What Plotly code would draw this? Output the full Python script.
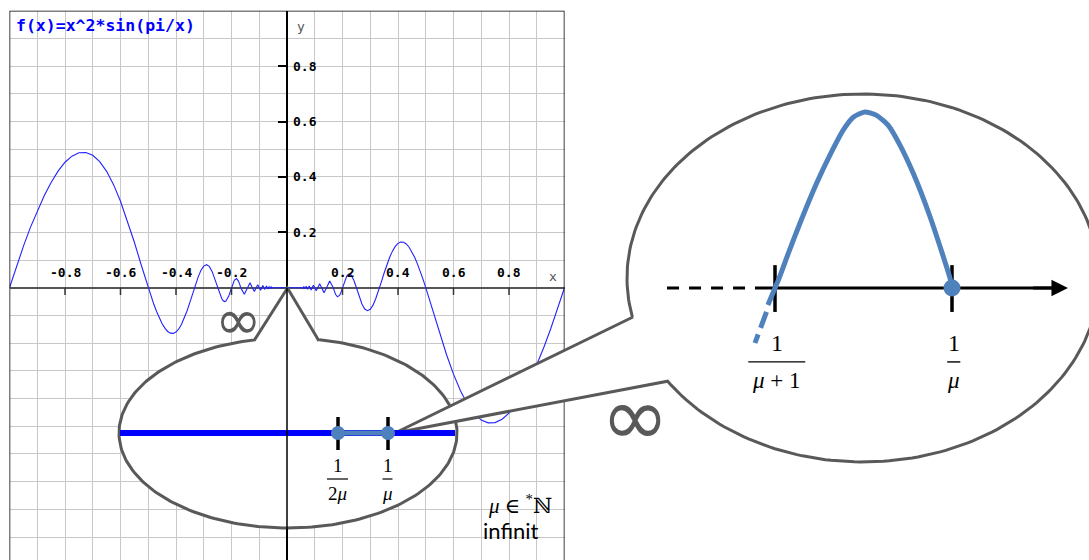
import numpy as np
import plotly.graph_objects as go

W, H = 1089, 560

# f(x) = x^2*sin(pi/x)
FX_LEFT = [-1.0, -0.975, -0.95, -0.925, -0.9, -0.875, -0.85, -0.825, -0.8, -0.775,
           -0.75, -0.725, -0.7, -0.675, -0.65, -0.625, -0.6, -0.575, -0.55, -0.525,
           -0.5, -0.49, -0.48, -0.47, -0.46, -0.45, -0.44, -0.43, -0.42, -0.41,
           -0.40, -0.39, -0.38, -0.37, -0.36, -0.35, -0.34, -0.3333, -0.325, -0.32,
           -0.31, -0.30, -0.29, -0.28, -0.27, -0.26, -0.25, -0.245, -0.24, -0.235,
           -0.23, -0.225, -0.22, -0.215, -0.21, -0.205, -0.2, -0.195, -0.19, -0.1818,
           -0.175, -0.17, -0.1667, -0.1538, -0.1429, -0.1333, -0.125, -0.1176, -0.1111, -0.1053,
           -0.1, -0.0952, -0.0909, -0.087, -0.0833, -0.08, -0.0769, -0.0741, -0.0714, -0.069,
           -0.0667, -0.0645, -0.0625, -0.0606, -0.0588, -0.0571, -0.055]
FY_LEFT = [0, 0.077, 0.149, 0.217, 0.277, 0.332, 0.380, 0.421, 0.453, 0.475,
           0.487, 0.488, 0.478, 0.455, 0.420, 0.372, 0.312, 0.242, 0.164, 0.081,
           0, -0.031, -0.060, -0.086, -0.110, -0.130, -0.146, -0.158, -0.164, -0.165,
           -0.160, -0.149, -0.132, -0.110, -0.083, -0.053, -0.021, 0, 0.025, 0.039,
           0.063, 0.078, 0.083, 0.077, 0.059, 0.031, 0, -0.015, -0.029, -0.040,
           -0.047, -0.050, -0.048, -0.041, -0.030, -0.016, 0, 0.015, 0.027, 0.033,
           0.024, 0.011, 0, -0.024, 0, 0.018, 0, -0.014, 0, 0.011,
           0, -0.009, 0, 0.008, 0, -0.006, 0, 0.006, 0, -0.005,
           0, 0.004, 0, -0.004, 0, 0.003, 0]
FX_RIGHT = [0.0, 0.055, 0.0571, 0.0588, 0.0606, 0.0625, 0.0645, 0.0667, 0.069, 0.0714,
            0.0741, 0.0769, 0.08, 0.0833, 0.087, 0.0909, 0.0952, 0.1, 0.1053, 0.1111,
            0.1176, 0.125, 0.1333, 0.1429, 0.1538, 0.1667, 0.17, 0.175, 0.1818, 0.19,
            0.195, 0.2, 0.205, 0.21, 0.215, 0.22, 0.225, 0.23, 0.235, 0.24,
            0.245, 0.25, 0.26, 0.27, 0.28, 0.29, 0.30, 0.31, 0.32, 0.325,
            0.3333, 0.34, 0.35, 0.36, 0.37, 0.38, 0.39, 0.40, 0.41, 0.42,
            0.43, 0.44, 0.45, 0.46, 0.47, 0.48, 0.49, 0.5, 0.525, 0.55,
            0.575, 0.6, 0.625, 0.65, 0.675, 0.7, 0.725, 0.75, 0.775, 0.8,
            0.825, 0.85, 0.875, 0.9, 0.925, 0.95, 0.975, 1.0]
FY_RIGHT = [0, 0, -0.003, 0, 0.004, 0, -0.004, 0, 0.005, 0,
            -0.006, 0, 0.006, 0, -0.008, 0, 0.009, 0, -0.011, 0,
            0.014, 0, -0.018, 0, 0.024, 0, -0.011, -0.024, -0.033, -0.027,
            -0.015, 0, 0.016, 0.030, 0.041, 0.048, 0.050, 0.047, 0.040, 0.029,
            0.015, 0, -0.031, -0.059, -0.077, -0.083, -0.078, -0.063, -0.039, -0.025,
            0, 0.021, 0.053, 0.083, 0.110, 0.132, 0.149, 0.160, 0.165, 0.164,
            0.158, 0.146, 0.130, 0.110, 0.086, 0.060, 0.031, 0, -0.081, -0.164,
            -0.242, -0.312, -0.372, -0.420, -0.455, -0.478, -0.488, -0.487, -0.475, -0.453,
            -0.421, -0.380, -0.332, -0.277, -0.217, -0.149, -0.077, 0]

TICK_VALS = [-0.8, -0.6, -0.4, -0.2, 0.2, 0.4, 0.6, 0.8]
TICK_TEXT = ['-0.8', '-0.6', '-0.4', '-0.2', '0.2', '0.4', '0.6', '0.8']

# left bubble: number line in units of 1/mu
LEFT_LINE_U = [-1.68, 1.67]
LEFT_TICKS = [0.5, 1.0]
LEFT_DEN = ['2<i>μ</i>', '<i>μ</i>']

# right bubble: one hump between 1/(mu+1) (u=0) and 1/mu (u=1)
RIGHT_TICKS = [0.0, 1.0]
RIGHT_DEN = ['<i>μ</i>\u2005+\u20051', '<i>μ</i>']
HUMP_U = [-0.04, 0.0, 0.019, 0.08, 0.141, 0.235, 0.311, 0.386, 0.442, 0.508,
          0.574, 0.64, 0.706, 0.781, 0.876, 0.989, 1.0]
HUMP_V = [-0.097, 0.0, 0.045, 0.21, 0.368, 0.595, 0.756, 0.898, 0.97, 1.0,
          0.981, 0.924, 0.812, 0.652, 0.405, 0.055, 0.0]
TAIL_U = [-0.048, -0.113]
TAIL_V = [-0.136, -0.3125]

BLUE = '#0000ff'
STEEL = '#4f81bd'
OUTLINE = '#595959'
GRID = '#c8c8c8'
MONO = 'DejaVu Sans Mono'
MATH = 'Liberation Serif, DejaVu Serif, serif'

# --- pixel geometry of the page ---
FRAME_L, FRAME_R, FRAME_T = 9.5, 564.5, 10.7
X_RANGE = [-1.0, 1.0]
Y_RANGE = [-0.983, 1.0]
x_dom = [FRAME_L / W, FRAME_R / W]
y_dom = [0, (H - FRAME_T) / H]
yaxis_pos = x_dom[0] + (x_dom[1] - x_dom[0]) * (0 - X_RANGE[0]) / (X_RANGE[1] - X_RANGE[0])
xaxis_pos = y_dom[0] + (y_dom[1] - y_dom[0]) * (0 - Y_RANGE[0]) / (Y_RANGE[1] - Y_RANGE[0])

LEFT_O, LEFT_S = (288, 433), (100, 100)
RIGHT_O, RIGHT_S = (775, 288), (177, 176)


def xr(o, s):
    return [(0 - o) / s, (W - o) / s]


def yr(o, s):
    return [(o - H) / s, o / s]


def callout(c, r, base_a, base_b, apex, n=240):
    ta = np.arctan2((base_a[1] - c[1]) / r[1], (base_a[0] - c[0]) / r[0])
    tb = np.arctan2((base_b[1] - c[1]) / r[1], (base_b[0] - c[0]) / r[0])
    if tb < ta:
        tb += 2 * np.pi
    t = np.linspace(ta, tb, n)
    xs = list(c[0] + r[0] * np.cos(t)) + [apex[0], base_a[0]]
    ys = list(c[1] + r[1] * np.sin(t)) + [apex[1], base_a[1]]
    return xs, ys


def segs(xs, y0, y1):
    px, py = [], []
    for x in xs:
        px += [x, x, None]
        py += [y0, y1, None]
    return px, py


def hsegs(centers, halves, y):
    px, py = [], []
    for c, h in zip(centers, halves):
        px += [c - h, c + h, None]
        py += [y, y, None]
    return px, py


fig = go.Figure()

# main curve and frame
fig.add_trace(go.Scatter(x=FX_LEFT + FX_RIGHT, y=FY_LEFT + FY_RIGHT, mode='lines',
                         line=dict(color='#2222ff', width=1.1), hoverinfo='skip'))
fig.add_trace(go.Scatter(x=[X_RANGE[0], X_RANGE[0], X_RANGE[1], X_RANGE[1]],
                         y=[Y_RANGE[0], Y_RANGE[1], Y_RANGE[1], Y_RANGE[0]], mode='lines',
                         line=dict(color='black', width=1.5), cliponaxis=False, hoverinfo='skip'))
# x-axis tick marks (below the axis line)
tx, ty = segs(TICK_VALS, 0, -0.026)
fig.add_trace(go.Scatter(x=tx, y=ty, mode='lines', line=dict(color='#333333', width=1.5),
                         hoverinfo='skip'))

# speech bubbles (pixel canvas)
bx, by = callout((288, 433), (169, 95), (319, 341), (255, 341), (287.5, 288))
fig.add_trace(go.Scatter(x=bx, y=by, xaxis='x2', yaxis='y2', mode='lines', fill='toself',
                         fillcolor='white', line=dict(color=OUTLINE, width=3), hoverinfo='skip'))
bx, by = callout((863, 278), (236, 184), (633, 317), (668, 381), (395, 433))
fig.add_trace(go.Scatter(x=bx, y=by, xaxis='x2', yaxis='y2', mode='lines', fill='toself',
                         fillcolor='white', line=dict(color=OUTLINE, width=3), hoverinfo='skip'))

# left inset
fig.add_trace(go.Scatter(x=LEFT_LINE_U, y=[0, 0], xaxis='x3', yaxis='y3', mode='lines',
                         line=dict(color=BLUE, width=6), hoverinfo='skip'))
tx, ty = segs(LEFT_TICKS, 0.16, -0.17)
fig.add_trace(go.Scatter(x=tx, y=ty, xaxis='x3', yaxis='y3', mode='lines',
                         line=dict(color='black', width=3.5), hoverinfo='skip'))
fig.add_trace(go.Scatter(x=LEFT_TICKS, y=[0, 0], xaxis='x3', yaxis='y3', mode='lines+markers',
                         line=dict(color=STEEL, width=5), marker=dict(color=STEEL, size=14),
                         hoverinfo='skip'))
LEFT_BAR_HALF = [0.105, 0.05]
LEFT_LABEL_U = [u - 0.005 for u in LEFT_TICKS]
fx, fy = hsegs(LEFT_LABEL_U, LEFT_BAR_HALF, -0.46)
fig.add_trace(go.Scatter(x=fx, y=fy, xaxis='x3', yaxis='y3', mode='lines',
                         line=dict(color='black', width=1.2), hoverinfo='skip'))

# right inset
fig.add_trace(go.Scatter(x=[-0.61, -0.113], y=[0, 0], xaxis='x4', yaxis='y4', mode='lines',
                         line=dict(color='black', width=3, dash='12px,10px'), hoverinfo='skip'))
fig.add_trace(go.Scatter(x=[-0.113, 1.6], y=[0, 0], xaxis='x4', yaxis='y4', mode='lines',
                         line=dict(color='black', width=3), hoverinfo='skip'))
tx, ty = segs(RIGHT_TICKS, 0.13, -0.136)
fig.add_trace(go.Scatter(x=tx, y=ty, xaxis='x4', yaxis='y4', mode='lines',
                         line=dict(color='black', width=3.5), hoverinfo='skip'))
fig.add_trace(go.Scatter(x=TAIL_U, y=TAIL_V, xaxis='x4', yaxis='y4', mode='lines',
                         line=dict(color=STEEL, width=5, dash='17px,7px'), hoverinfo='skip'))
fig.add_trace(go.Scatter(x=HUMP_U, y=HUMP_V, xaxis='x4', yaxis='y4', mode='lines',
                         line=dict(color=STEEL, width=5, shape='spline', smoothing=0.6),
                         hoverinfo='skip'))
fig.add_trace(go.Scatter(x=[RIGHT_TICKS[1]], y=[0], xaxis='x4', yaxis='y4', mode='markers',
                         marker=dict(color=STEEL, size=17), hoverinfo='skip'))
RIGHT_BAR_HALF = [0.161, 0.037]
RIGHT_LABEL_U = [u + 0.01 for u in RIGHT_TICKS]
fx, fy = hsegs(RIGHT_LABEL_U, RIGHT_BAR_HALF, -0.42)
fig.add_trace(go.Scatter(x=fx, y=fy, xaxis='x4', yaxis='y4', mode='lines',
                         line=dict(color='black', width=1.4), hoverinfo='skip'))

tickfont = dict(family=MONO, size=13, color='black', weight='bold')
hidden = dict(domain=[0, 1], visible=False, fixedrange=True, showgrid=False, zeroline=False)

annotations = [
    dict(x=14, y=25, xref='x2', yref='y2', text='f(x)=x^2*sin(pi/x)', showarrow=False,
         xanchor='left', yanchor='middle', font=dict(family=MONO, size=16.5, color=BLUE, weight='bold')),
    dict(x=0.957, y=0.042, xref='x', yref='y', text='x', showarrow=False,
         font=dict(family=MONO, size=13, color='#555555')),
    dict(x=0.05, y=0.942, xref='x', yref='y', text='y', showarrow=False,
         font=dict(family=MONO, size=13, color='#555555')),
    dict(x=238.5, y=319, xref='x2', yref='y2', text='∞', showarrow=False,
         font=dict(family='DejaVu Sans', size=56, color=OUTLINE)),
    dict(x=634.5, y=416, xref='x2', yref='y2', text='∞', showarrow=False,
         font=dict(family='DejaVu Sans', size=82, color=OUTLINE)),
    dict(x=520, y=504, xref='x2', yref='y2', text='<i>μ</i> ∈ <sup>*</sup>ℕ', showarrow=False,
         font=dict(family=MATH, size=21, color='black')),
    dict(x=511, y=530, xref='x2', yref='y2', text='infinit', showarrow=False,
         font=dict(family='Lato', size=22, color='black')),
    # arrow head of the right number line
    dict(x=1.655, y=0, ax=1.45, ay=0, xref='x4', yref='y4', axref='x4', ayref='y4',
         text='', showarrow=True, arrowhead=2, arrowwidth=3, arrowsize=1.1, arrowcolor='black'),
]

# x tick labels sit above the axis line
for v, t in zip(TICK_VALS, TICK_TEXT):
    annotations.append(dict(x=v, y=0, xref='x', yref='y', text=t, showarrow=False,
                            yanchor='middle', yshift=15, font=tickfont))
# y tick labels right of the axis (the negative ones lie under the left bubble)
for v, t in zip(TICK_VALS, TICK_TEXT):
    if v > 0:
        annotations.append(dict(x=0, y=v, xref='x', yref='y', text=t, showarrow=False,
                                xanchor='left', yanchor='middle', xshift=4, font=tickfont))

# fraction labels
for u, den in zip(LEFT_LABEL_U, LEFT_DEN):
    annotations.append(dict(x=u, y=-0.32, xref='x3', yref='y3', text='1', showarrow=False,
                            font=dict(family=MATH, size=19, color='black')))
    annotations.append(dict(x=u, y=-0.60, xref='x3', yref='y3', text=den, showarrow=False,
                            font=dict(family=MATH, size=19, color='black')))
for u, den in zip(RIGHT_LABEL_U, RIGHT_DEN):
    annotations.append(dict(x=u, y=-0.3125, xref='x4', yref='y4', text='1', showarrow=False,
                            font=dict(family=MATH, size=24, color='black')))
    annotations.append(dict(x=u, y=-0.523, xref='x4', yref='y4', text=den, showarrow=False,
                            font=dict(family=MATH, size=23, color='black')))

shapes = [
    # y axis continuing through the left bubble
    dict(type='line', xref='x', yref='y', x0=0, x1=0, y0=0, y1=Y_RANGE[0],
         line=dict(color='black', width=1.5), layer='above'),
]

fig.update_layout(
    width=W, height=H,
    margin=dict(l=0, r=0, t=0, b=0),
    paper_bgcolor='white',
    plot_bgcolor='rgba(0,0,0,0)',
    showlegend=False,
    xaxis=dict(domain=x_dom, range=X_RANGE, anchor='free', position=xaxis_pos,
               tickmode='array', tickvals=TICK_VALS, ticks='', showticklabels=False,
               showline=True, linecolor='#555555', linewidth=2,
               showgrid=True, gridcolor=GRID, gridwidth=1, zeroline=False,
               minor=dict(tickmode='linear', tick0=0, dtick=0.1, showgrid=True,
                          gridcolor=GRID, gridwidth=1),
               layer='below traces', fixedrange=True),
    yaxis=dict(domain=y_dom, range=Y_RANGE, anchor='free', position=yaxis_pos,
               tickmode='array', tickvals=TICK_VALS, showticklabels=False,
               ticks='outside', ticklen=8, tickwidth=1.5, tickcolor='black',
               showline=True, linecolor='black', linewidth=1.5,
               showgrid=True, gridcolor=GRID, gridwidth=1, zeroline=False,
               minor=dict(tickmode='linear', tick0=0, dtick=0.1, showgrid=True,
                          gridcolor=GRID, gridwidth=1),
               layer='below traces', fixedrange=True),
    xaxis2=dict(hidden, range=[0, W], anchor='y2'),
    yaxis2=dict(hidden, range=[H, 0], anchor='x2'),
    xaxis3=dict(hidden, range=xr(LEFT_O[0], LEFT_S[0]), anchor='y3'),
    yaxis3=dict(hidden, range=yr(LEFT_O[1], LEFT_S[1]), anchor='x3'),
    xaxis4=dict(hidden, range=xr(RIGHT_O[0], RIGHT_S[0]), anchor='y4'),
    yaxis4=dict(hidden, range=yr(RIGHT_O[1], RIGHT_S[1]), anchor='x4'),
    annotations=annotations,
    shapes=shapes,
)

fig.write_html("out.html", config={'displayModeBar': False},
               post_script="document.body.style.margin='0';")
